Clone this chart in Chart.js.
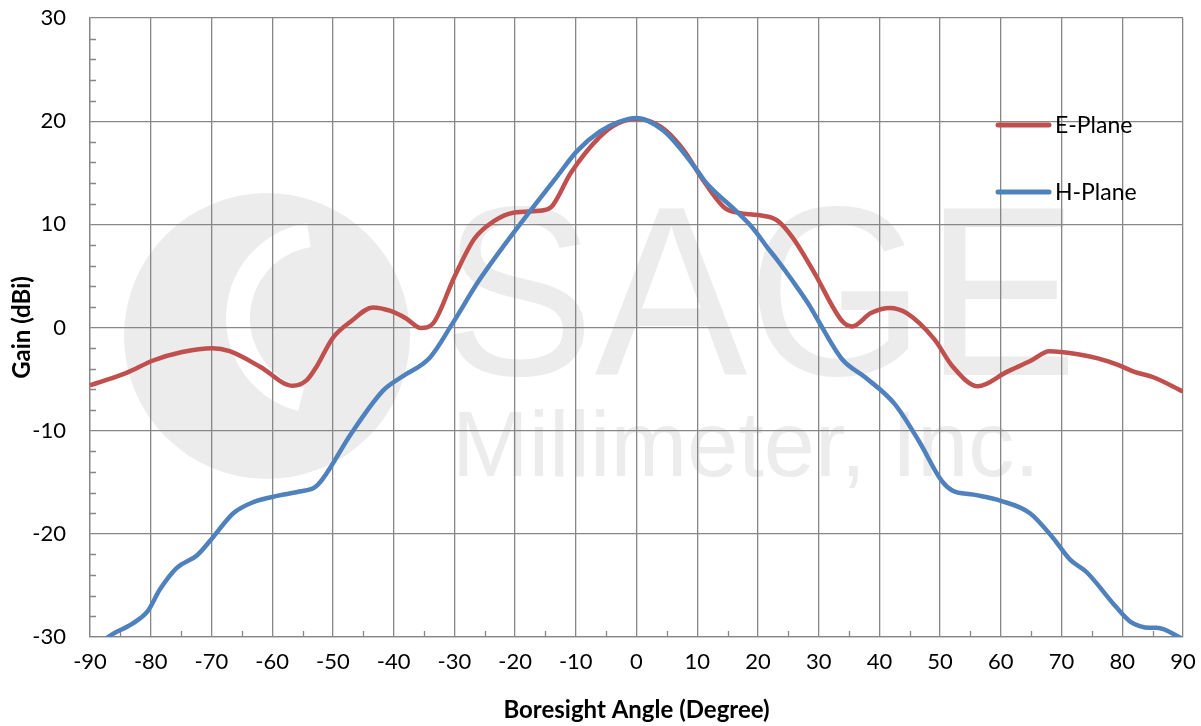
<!doctype html>
<html>
<head>
<title>Antenna Gain Pattern</title>
<script src="https://cdn.jsdelivr.net/npm/chart.js@4.4.1/dist/chart.umd.min.js"></script>
<style>
  html, body { margin: 0; padding: 0; background: #fff; }
  #wrap { width: 1201px; height: 726px; position: relative; }
</style>
</head>
<body>
<div id="wrap"><canvas id="myChart"></canvas></div>
<script>
// E-Plane pattern (degrees, dBi)
var eAngles = [-90, -88.4, -84, -79.6, -75, -69.8, -67, -62, -56.6, -54.3, -52.7, -50, -47, -43.4, -40.5, -38, -35.5, -33.5,
  -30, -26.7, -23.5, -20.1, -15.5, -14, -10.8, -6, -3, 0, 3, 5, 8, 10.6, 14.5, 16.9, 20, 23.1, 25.6, 29.2, 33.9, 35.5,
  38.6, 41.7, 44.5, 49, 52.1, 56.2, 61, 65, 68, 72.7, 76, 79.6, 82, 85, 90];
var eGain = [-5.6, -5.3, -4.4, -3.2, -2.4, -2.0, -2.3, -3.8, -5.65, -5.1, -3.8, -1.0, 0.6, 1.95, 1.6, 0.9, -0.05, 0.4,
  4.9, 8.6, 10.3, 11.15, 11.35, 11.7, 15.0, 18.5, 19.8, 20.2, 19.8, 19.0, 17.0, 14.6, 11.6, 11.1, 10.9, 10.4, 8.8, 5.4, 0.6, 0.1,
  1.4, 1.9, 1.4, -1.1, -3.8, -5.7, -4.3, -3.2, -2.3, -2.6, -3.0, -3.7, -4.3, -4.8, -6.2];

// H-Plane pattern (degrees, dBi)
var hAngles = [-90, -87, -83, -80.5, -78.5, -75.7, -72.4, -69.7, -66.4, -63, -59, -55.5, -53, -51.7, -47, -41.7, -38.7,
  -34, -30.4, -26, -21.5, -17.5, -13, -9.8, -6, -3, 0, 4.4, 7, 9.9, 11.5, 16.2, 19.2, 21.5, 23.1, 25.6, 28.3, 29.7,
  33.9, 37.6, 42.5, 46.5, 50.3, 52, 55.5, 60, 64.8, 68.6, 71.4, 74.1, 79, 81.3, 84.6, 85.7, 90];
var hGain = [-31.8, -30, -28.7, -27.5, -25.4, -23.3, -22.1, -20.3, -18.0, -16.9, -16.3, -15.9, -15.5, -14.7, -10.3, -6.1, -4.8,
  -2.9, 0.3, 4.5, 8.2, 11.3, 14.7, 17.1, 19.0, 19.9, 20.3, 19.1, 17.5, 15.3, 14.0, 11.4, 9.6, 7.8, 6.6, 4.6, 2.3, 0.9,
  -3.1, -4.8, -7.4, -11.0, -14.9, -15.8, -16.2, -16.8, -18.0, -20.4, -22.5, -23.7, -27.1, -28.5, -29.1, -29.1, -30.2];

var seriesNames = ['E-Plane', 'H-Plane'];
var seriesColors = ['#C0504D', '#4F81BD'];
var xMin = -90, xMax = 90, xStep = 10;
var yMin = -30, yMax = 30, yStep = 10;

function toPoints(xs, ys) {
  return xs.map(function(x, i) { return {x: x, y: ys[i]}; });
}

var gridColor = '#878787';
var font = 'Lato, "Open Sans", sans-serif';

// light grey company watermark behind the grid
var watermark = {
  id: 'watermark',
  beforeDraw: function(chart) {
    var c = chart.ctx;
    c.save();
    c.fillStyle = '#ececec';
    c.beginPath();
    c.arc(267, 336, 143, 0, Math.PI * 2);
    c.fill();
    c.strokeStyle = '#ffffff';
    c.lineWidth = 24;
    c.beginPath();
    c.arc(322, 318, 84, Math.PI * 0.58, Math.PI * 1.45);
    c.stroke();
    c.fillStyle = '#ececec';
    c.font = '242px "Liberation Sans", Arial, sans-serif';
    c.textBaseline = 'alphabetic';
    c.fillText('SAGE', 442, 375, 636);
    c.font = '92px "Liberation Sans", Arial, sans-serif';
    c.fillText('Millimeter, Inc.', 452, 476, 660);
    c.restore();
  }
};

// small inward ticks: every 2 dB on the y axis, every 5 deg on the x axis
var minorTicks = {
  id: 'minorTicks',
  beforeDatasetsDraw: function(chart) {
    var c = chart.ctx, xs = chart.scales.x, ys = chart.scales.y, a = chart.chartArea;
    c.save();
    c.strokeStyle = gridColor;
    c.lineWidth = 1.3;
    c.beginPath();
    for (var v = yMin; v <= yMax; v += 2) {
      if (v % 10 === 0) continue;
      var py = Math.round(ys.getPixelForValue(v)) + 0.5;
      c.moveTo(a.left, py);
      c.lineTo(a.left + 6, py);
    }
    for (var d = xMin + 5; d < xMax; d += 10) {
      var px = Math.round(xs.getPixelForValue(d)) + 0.5;
      c.moveTo(px, a.bottom);
      c.lineTo(px, a.bottom - 6);
    }
    c.stroke();
    c.restore();
  }
};

// legend placed inside the plot at the upper right
var insideLegend = {
  id: 'insideLegend',
  afterDatasetsDraw: function(chart) {
    var c = chart.ctx;
    var rows = [125, 192];
    c.save();
    c.lineCap = 'round';
    c.font = '23px ' + font;
    c.textBaseline = 'middle';
    seriesNames.forEach(function(name, i) {
      c.strokeStyle = seriesColors[i];
      c.lineWidth = 5;
      c.beginPath();
      c.moveTo(998, rows[i]);
      c.lineTo(1049, rows[i]);
      c.stroke();
      c.fillStyle = '#000';
      c.fillText(name, 1055, rows[i] + 1);
    });
    c.restore();
  }
};

var ctx = document.getElementById('myChart').getContext('2d');
var chart = new Chart(ctx, {
  type: 'line',
  data: {
    datasets: [{
      label: seriesNames[0],
      data: toPoints(eAngles, eGain),
      borderColor: seriesColors[0],
      borderWidth: 4.5,
      pointRadius: 0,
      fill: false,
      cubicInterpolationMode: 'monotone',
      order: 1
    }, {
      label: seriesNames[1],
      data: toPoints(hAngles, hGain),
      borderColor: seriesColors[1],
      borderWidth: 4.5,
      pointRadius: 0,
      fill: false,
      cubicInterpolationMode: 'monotone',
      order: 0
    }]
  },
  options: {
    responsive: true,
    maintainAspectRatio: false,
    animation: false,
    layout: { padding: { top: 18, right: 18, left: 0, bottom: 0 } },
    plugins: {
      legend: { display: false },
      tooltip: { enabled: false }
    },
    scales: {
      x: {
        type: 'linear',
        min: xMin,
        max: xMax,
        afterFit: function(s) { s.height = 89; s.paddingLeft = 0; s.paddingRight = 0; },
        ticks: {
          stepSize: xStep,
          padding: 12,
          color: '#000',
          maxRotation: 0,
          font: { family: font, size: 22 }
        },
        grid: { color: gridColor, lineWidth: 1.3, drawTicks: false },
        border: { color: gridColor, width: 1.3 },
        title: {
          display: true,
          text: 'Boresight Angle (Degree)',
          color: '#000',
          font: { family: font, size: 24, weight: 'bold' },
          padding: { top: 0, bottom: 1 }
        }
      },
      y: {
        min: yMin,
        max: yMax,
        afterFit: function(s) { s.width = 90; s.paddingTop = 0; s.paddingBottom = 0; },
        ticks: {
          stepSize: yStep,
          padding: 24,
          color: '#000',
          font: { family: font, size: 22 }
        },
        grid: { color: gridColor, lineWidth: 1.3, drawTicks: false },
        border: { color: gridColor, width: 1.3 },
        title: {
          display: true,
          text: 'Gain (dBi)',
          color: '#000',
          font: { family: font, size: 24, weight: 'bold' },
          padding: { top: 8, bottom: 0 }
        }
      }
    }
  },
  plugins: [watermark, minorTicks, insideLegend]
});
</script>
</body>
</html>
